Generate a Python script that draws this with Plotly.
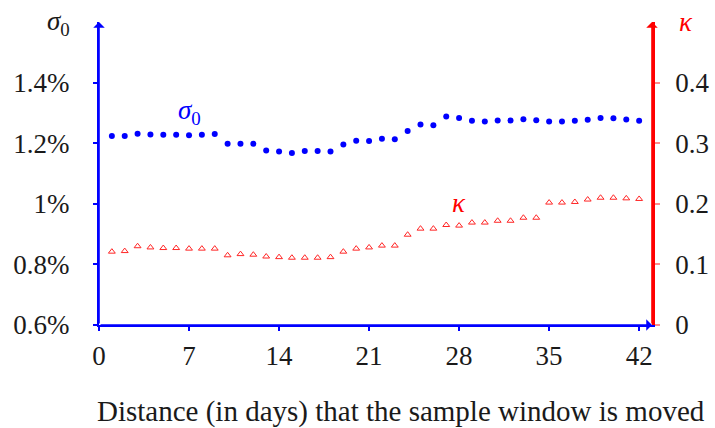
import plotly.graph_objects as go

days = list(range(1, 43))
sigma0 = [1.224, 1.224, 1.231, 1.229, 1.228, 1.228, 1.226, 1.228, 1.230,
          1.198, 1.198, 1.198, 1.176, 1.173, 1.168, 1.174, 1.174, 1.173,
          1.196, 1.208, 1.207, 1.215, 1.213, 1.240, 1.262, 1.259, 1.288,
          1.283, 1.274, 1.272, 1.275, 1.275, 1.279, 1.276, 1.272, 1.272,
          1.274, 1.277, 1.283, 1.282, 1.278, 1.274]
kappa = [0.121, 0.122, 0.130, 0.128, 0.127, 0.127, 0.126, 0.126, 0.126,
         0.115, 0.117, 0.116, 0.113, 0.112, 0.111, 0.111, 0.111, 0.112,
         0.121, 0.126, 0.128, 0.131, 0.131, 0.149, 0.159, 0.159, 0.165,
         0.164, 0.169, 0.169, 0.172, 0.172, 0.177, 0.177, 0.202, 0.202,
         0.203, 0.207, 0.210, 0.210, 0.209, 0.208]

x_ticks = [0, 7, 14, 21, 28, 35, 42]
left_ticks = [0.6, 0.8, 1.0, 1.2, 1.4]
left_labels = ["0.6%", "0.8%", "1%", "1.2%", "1.4%"]
right_ticks = [0, 0.1, 0.2, 0.3, 0.4]
right_labels = ["0", "0.1", "0.2", "0.3", "0.4"]

BLUE = "#0000ff"
RED = "#ff0000"
PINK = "rgba(255,0,0,0.45)"
FONT = "Liberation Serif"
TXT = "#1a1a1a"
XR = [0, 43]
YR = [0.6, 1.6]
Y2R = [0, 0.5]

L, R, T, B = 99, 63, 22, 103
W, H = 715, 428
PW, PH = W - L - R, H - T - B


def px(xp):
    return (xp - L) / PW


def py(yp):
    return (H - B - yp) / PH


fig = go.Figure()
fig.add_trace(go.Scatter(x=days, y=sigma0, mode="markers",
                         marker=dict(color=BLUE, size=6, symbol="circle"),
                         xaxis="x", yaxis="y", showlegend=False, cliponaxis=False))
fig.add_trace(go.Scatter(x=days, y=kappa, mode="markers",
                         marker=dict(color=RED, size=6, symbol="triangle-up-open",
                                     line=dict(width=1, color=RED)),
                         opacity=0.85,
                         xaxis="x", yaxis="y2", showlegend=False, cliponaxis=False))

tickfont = dict(family=FONT, size=27, color=TXT)
fig.update_layout(
    width=W, height=H,
    margin=dict(l=L, r=R, t=T, b=B, autoexpand=False),
    paper_bgcolor="white", plot_bgcolor="white",
    xaxis=dict(range=XR, tickvals=x_ticks, ticktext=[str(v) for v in x_ticks],
               ticks="outside", ticklen=4, tickwidth=1.5, tickcolor=BLUE,
               showgrid=False, zeroline=False, showline=True, linecolor=BLUE,
               linewidth=2, tickfont=tickfont, ticklabelstandoff=2, automargin=False),
    xaxis2=dict(range=XR, overlaying="x", anchor="y", tickvals=x_ticks,
                ticks="inside", ticklen=4, tickwidth=1.5, tickcolor=BLUE,
                showticklabels=False, showgrid=False, zeroline=False, showline=False),
    yaxis=dict(range=YR, tickvals=left_ticks, ticktext=left_labels,
               ticks="outside", ticklen=4, tickwidth=1.5, tickcolor=BLUE,
               showgrid=False, zeroline=False, showline=True, linecolor=BLUE,
               linewidth=2, tickfont=tickfont, ticklabelstandoff=18, automargin=False),
    yaxis2=dict(range=Y2R, overlaying="y", side="right", anchor="x",
                tickvals=right_ticks, ticktext=right_labels,
                ticks="outside", ticklen=5, tickwidth=1.5, tickcolor=PINK,
                showgrid=False, zeroline=False, showline=True, linecolor=RED,
                linewidth=2.5, tickfont=tickfont, ticklabelstandoff=10, automargin=False),
    yaxis3=dict(range=YR, overlaying="y", anchor="x", side="left", tickvals=left_ticks,
                ticks="inside", ticklen=4, tickwidth=1.5, tickcolor=BLUE,
                showticklabels=False, showgrid=False, zeroline=False, showline=False),
    yaxis4=dict(range=Y2R, overlaying="y", anchor="x", side="right", tickvals=right_ticks,
                ticks="inside", ticklen=5, tickwidth=1.5, tickcolor=PINK,
                showticklabels=False, showgrid=False, zeroline=False, showline=False),
    showlegend=False,
)

# axis arrows
fig.add_annotation(x=XR[1], y=YR[0], ax=0, ay=YR[0], xref="x", yref="y", axref="x", ayref="y",
                   showarrow=True, arrowhead=1, arrowsize=1.2, arrowwidth=1.6, arrowcolor=BLUE, text="")
fig.add_annotation(x=0, y=YR[1], ax=0, ay=YR[0], xref="x", yref="y", axref="x", ayref="y",
                   showarrow=True, arrowhead=1, arrowsize=1.2, arrowwidth=1.6, arrowcolor=BLUE, text="")
fig.add_annotation(x=XR[1], y=Y2R[1], ax=XR[1], ay=Y2R[0], xref="x", yref="y2", axref="x", ayref="y2",
                   showarrow=True, arrowhead=1, arrowsize=1.2, arrowwidth=1.6, arrowcolor=RED, text="")

# axis captions
fig.add_annotation(x=px(58), y=py(23), xref="paper", yref="paper", showarrow=False,
                   text="<i>σ</i><sub>0</sub>", font=dict(family=FONT, size=27, color=TXT),
                   xanchor="center", yanchor="middle")
fig.add_annotation(x=px(686), y=py(22), xref="paper", yref="paper", showarrow=False,
                   text="<i>κ</i>", font=dict(family=FONT, size=27, color=RED),
                   xanchor="center", yanchor="middle")
# series labels
fig.add_annotation(x=px(189), y=py(112), xref="paper", yref="paper", showarrow=False,
                   text="<i>σ</i><sub>0</sub>", font=dict(family=FONT, size=27, color=BLUE),
                   xanchor="center", yanchor="middle")
fig.add_annotation(x=px(459), y=py(203), xref="paper", yref="paper", showarrow=False,
                   text="<i>κ</i>", font=dict(family=FONT, size=27, color=RED),
                   xanchor="center", yanchor="middle")
# x-axis title
fig.add_annotation(x=px(707), y=py(411), xref="paper", yref="paper", showarrow=False,
                   text="Distance (in days) that the sample window is moved",
                   font=dict(family=FONT, size=29, color=TXT),
                   xanchor="right", yanchor="middle")

fig.write_html("out.html")
